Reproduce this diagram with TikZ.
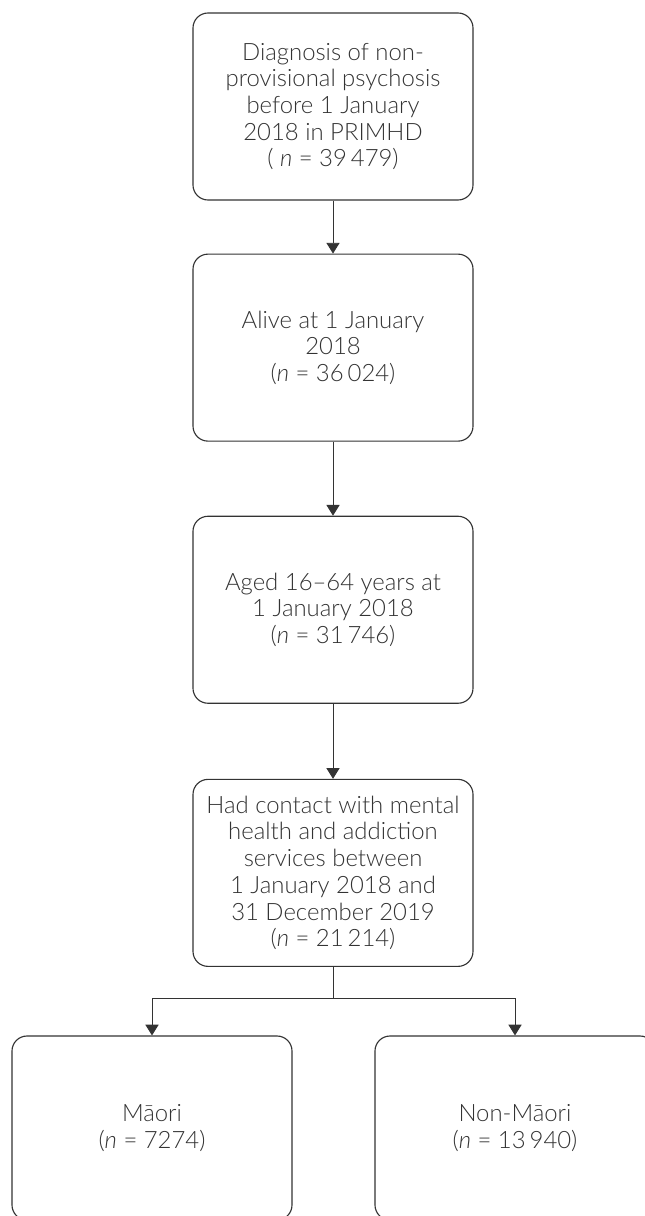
\documentclass[tikz,border=0pt]{standalone}
\usepackage{fontspec}
\IfFontExistsTF{Lato Light}{%
  \setmainfont{Lato}[UprightFont=* Light, ItalicFont=* Light Italic]}{%
  \setmainfont{Lato}}
\usepackage{tikz}
\usetikzlibrary{positioning, arrows.meta}
\definecolor{inkgray}{HTML}{333333}
\newcommand{\nn}[1]{(\textit{n} = #1)}

\begin{document}
\begin{tikzpicture}[
	flowbox/.style={draw=inkgray, line width=0.8pt, rounded corners=0.375cm,
		minimum width=7cm, minimum height=4.675cm, align=center, inner xsep=2pt,
		text=inkgray, font=\fontsize{17}{19}\selectfont},
	flowarrow/.style={draw=inkgray, line width=0.7pt,
		-{Triangle[width=0.33cm, length=0.27cm]}}
]
	\useasboundingbox (0,0) rectangle (16.1,-30.4);
	\node [flowbox] (diag) at (8.325,-2.6625) {Diagnosis of non-\\provisional psychosis\\before 1 January\\2018 in PRIMHD\\( \textit{n} = 39\,479)};
	\node [flowbox, below=1.325cm of diag] (alive) {Alive at 1 January\\2018\\\nn{36\,024}};
	\node [flowbox, below=1.85cm of alive] (aged) {Aged 16--64 years at\\1 January 2018\\\nn{31\,746}};
	\node [flowbox, below=1.875cm of aged] (contact) {Had contact with mental\\health and addiction\\services between\\1 January 2018 and\\31 December 2019\\\nn{21\,214}};
	\node [flowbox, minimum height=4.6cm] (maori) at (3.8,-28.2) {Māori\\\nn{7274}};
	\node [flowbox, minimum height=4.6cm] (nonmaori) at (12.875,-28.2) {Non-Māori\\\nn{13\,940}};
	\coordinate (fork) at (8.325,-24.95);
	\draw [flowarrow] (diag) -- (alive);
	\draw [flowarrow] (alive) -- (aged);
	\draw [flowarrow] (aged) -- (contact);
	\draw [draw=inkgray, line width=0.7pt] (contact) -- (fork);
	\draw [flowarrow] (fork) -| (maori);
	\draw [flowarrow] (fork) -| (nonmaori);
\end{tikzpicture}
\end{document}
